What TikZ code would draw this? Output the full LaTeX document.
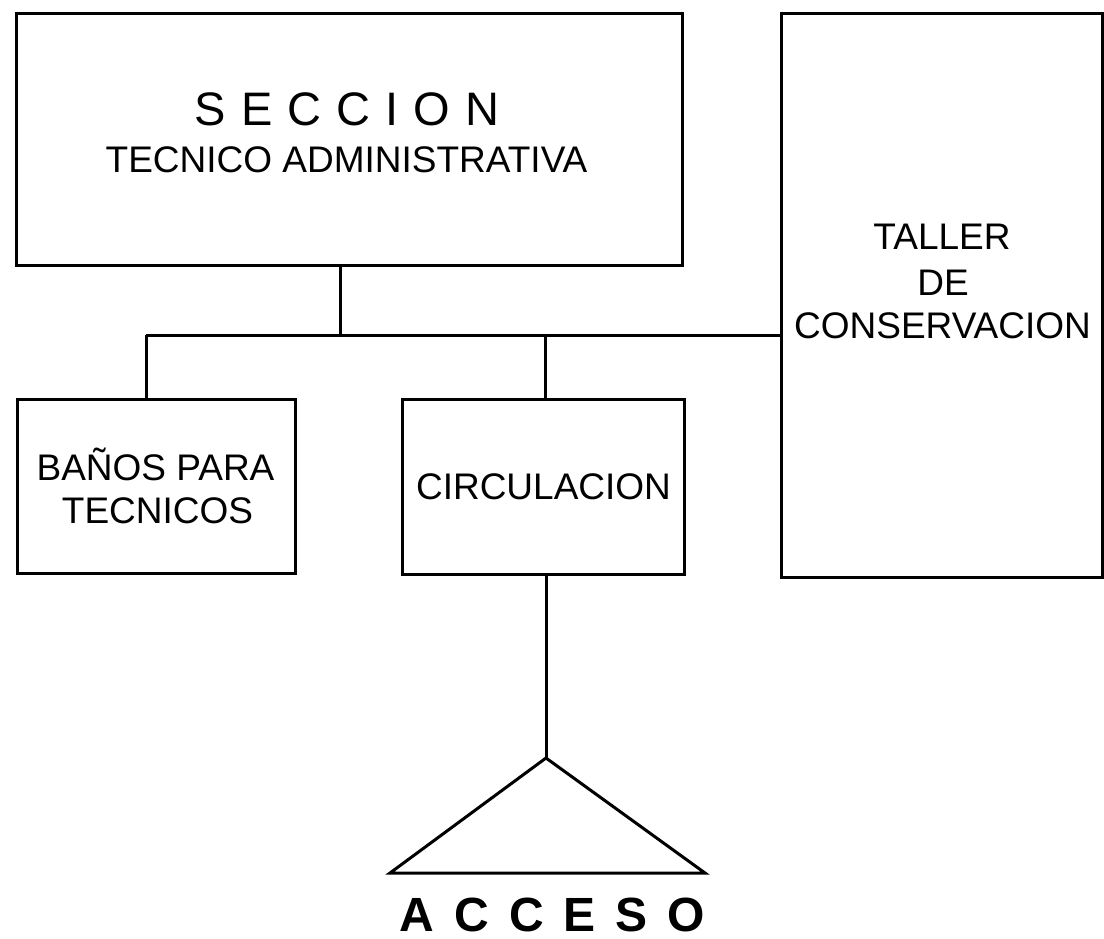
\documentclass[tikz,border=0pt]{standalone}
\usepackage{fontspec}
\setmainfont{Liberation Sans}
\begin{document}
\begin{tikzpicture}[x=1pt,y=-1pt,
  box/.style={draw,line width=3pt,rectangle,inner sep=0pt,outer sep=0pt},
  lbl/.style={anchor=base,inner sep=0pt,outer sep=0pt,font=\fontsize{37}{44}\selectfont},
  conn/.style={line width=3pt,line join=miter}]
\useasboundingbox[fill=white] (0,0) rectangle (1104,939);
% boxes
\node[box,minimum width=666pt,minimum height=251pt] (sec) at (349,139.5) {};
\node[box,minimum width=321pt,minimum height=563pt] (tal) at (941.5,295.5) {};
\node[box,minimum width=278pt,minimum height=174pt] (ban) at (156,486) {};
\node[box,minimum width=282pt,minimum height=175pt] (circ) at (543,486.5) {};
% labels
\node[lbl,font=\fontsize{47}{50}\selectfont] (secA) at (347,126) {\spaceskip=15pt\xspaceskip=15pt S E C C I O N};
\node[lbl] (secB) at (346.5,173) {TECNICO ADMINISTRATIVA};
\node[lbl] (talA) at (942,250) {TALLER};
\node[lbl] (talB) at (943,295) {DE};
\node[lbl] (talC) at (942.5,338) {CONSERVACION};
\node[lbl] (banA) at (155.5,480) {BAÑOS PARA};
\node[lbl] (banB) at (157.5,523) {TECNICOS};
\node[lbl] (circA) at (543.5,499) {CIRCULACION};
% junctions
\coordinate (j1) at (340,335);
\coordinate (j2) at (146,335);
\coordinate (j3) at (545,335);
\coordinate (apex) at (546,758);
\coordinate (bl) at (390,873);
\coordinate (br) at (705,873);
% connectors
\draw[conn] (sec.south -| j1) -- (j1);
\draw[conn] (j2) -- (j2 -| tal.west);
\draw[conn] (j2) -- (j2 |- ban.north);
\draw[conn] (j3) -- (j3 |- circ.north);
\draw[conn] (apex |- circ.south) -- (apex);
\draw[conn] (apex) -- (bl) -- (br) -- cycle;
\node[lbl,font=\bfseries\fontsize{48}{50}\selectfont] (acc) at (552.5,931) {\spaceskip=20pt\xspaceskip=20pt A C C E S O};
\end{tikzpicture}
\end{document}
